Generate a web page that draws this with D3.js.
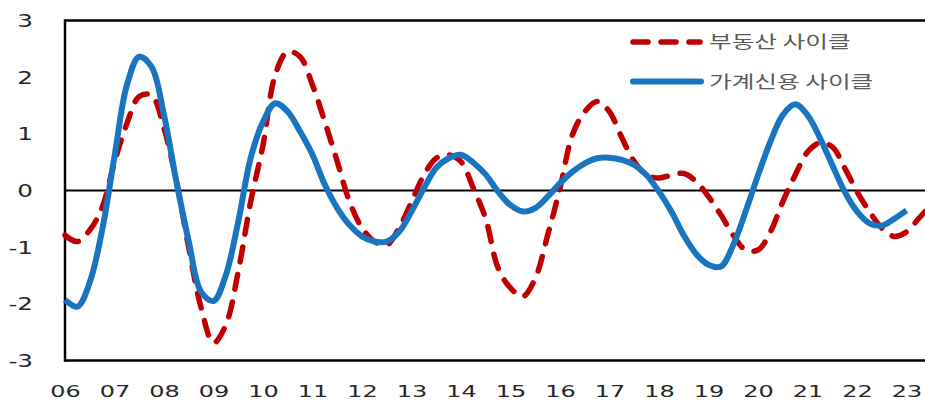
<!DOCTYPE html>
<html>
<head>
<meta charset="utf-8">
<script src="https://cdn.jsdelivr.net/npm/d3@7"></script>
<style>
  html, body { margin: 0; padding: 0; background: #fff; }
  svg { display: block; }
</style>
</head>
<body>
<svg id="chart" width="925" height="401"></svg>
<script>
// ---------- data ----------
const yearLabels = ["06","07","08","09","10","11","12","13","14","15","16","17","18","19","20","21","22","23"];
const quarters = [];
yearLabels.forEach(y => { for (let q = 1; q <= 4; q++) quarters.push(y + "Q" + q); });
quarters.splice(71); // 06Q1 .. 23Q3

const seriesNames = ["부동산 사이클", "가계신용 사이클"];

// 부동산 사이클 (red, dashed)
const realEstate = [
  -0.79, -0.90, -0.70, -0.30,   // 06
   0.50,  1.18,  1.66,  1.68,   // 07
   1.10,  0.16, -1.01, -2.07,   // 08
  -2.69, -2.37, -1.43, -0.20,   // 09
   0.80,  2.05,  2.45,  2.36,   // 10
   1.86,  1.21,  0.51, -0.20,   // 11
  -0.66, -0.90, -0.96, -0.66,   // 12
  -0.20,  0.27,  0.57,  0.63,   // 13
   0.51,  0.04, -0.50, -1.37,   // 14
  -1.72, -1.87, -1.55, -0.79,   // 15
   0.04,  0.98,  1.39,  1.57,   // 16
   1.39,  0.93,  0.51,  0.27,   // 17
   0.22,  0.27,  0.30,  0.16,   // 18
  -0.11, -0.43, -0.79, -1.05,   // 19
  -1.05, -0.73, -0.20,  0.27,   // 20
   0.68,  0.84,  0.77,  0.40,   // 21
  -0.02, -0.37, -0.66, -0.81,   // 22
  -0.73, -0.49, -0.25           // 23
];

// 가계신용 사이클 (blue, solid)
const householdCredit = [
  -1.93, -2.05, -1.62, -0.70,   // 06
   0.60,  1.86,  2.36,  2.18,   // 07
   1.33,  0.16, -0.90, -1.79,   // 08
  -1.95, -1.49, -0.55,  0.57,   // 09
   1.21,  1.54,  1.39,  1.04,   // 10
   0.63,  0.10, -0.31, -0.61,   // 11
  -0.81, -0.90, -0.90, -0.73,   // 12
  -0.37,  0.04,  0.40,  0.57,   // 13
   0.63,  0.49,  0.28, -0.02,   // 14
  -0.26, -0.37, -0.31, -0.11,   // 15
   0.13,  0.33,  0.48,  0.57,   // 16
   0.58,  0.54,  0.45,  0.27,   // 17
  -0.02, -0.37, -0.79, -1.12,   // 18
  -1.31, -1.34, -0.96, -0.37,   // 19
   0.27,  0.86,  1.33,  1.52,   // 20
   1.33,  0.93,  0.45, -0.02,   // 21
  -0.37, -0.58, -0.62, -0.50,   // 22
  -0.35,  null,  null           // 23
];

const yTicks = [-3, -2, -1, 0, 1, 2, 3];

// ---------- layout ----------
const W = 925, H = 401;
const plotLeft = 65, plotTop = 20.5, plotBottom = 360.5;
const qStep = 12.375;
const SX = 1.45; // horizontal text stretch seen in the reference
const RED = "#c00000", BLUE = "#1a75c1";
const FONT = "'DejaVu Sans', 'Noto Sans CJK KR', sans-serif";

const svg = d3.select("#chart");

// stretch a text horizontally with textLength, keeping its anchor point
function stretch(sel) {
  sel.each(function () {
    const t = d3.select(this);
    const anchor = t.attr("text-anchor") || getComputedStyle(this).textAnchor || "start";
    const x0 = +t.attr("x") || 0;
    const w = this.getComputedTextLength();
    const nw = w * SX;
    const shift = anchor === "end" ? nw : anchor === "middle" ? nw / 2 : 0;
    t.attr("text-anchor", "start")
     .attr("x", x0 - shift)
     .attr("textLength", nw)
     .attr("lengthAdjust", "spacingAndGlyphs");
  });
}

const x = d3.scalePoint()
  .domain(quarters)
  .range([plotLeft, plotLeft + (quarters.length - 1) * qStep]);
const y = d3.scaleLinear().domain([-3, 3]).range([plotBottom, plotTop]);

// frame lines
svg.append("line").attr("x1", plotLeft).attr("x2", W).attr("y1", plotTop).attr("y2", plotTop)
  .attr("stroke", "#000").attr("stroke-width", 2.5);
svg.append("line").attr("x1", plotLeft).attr("x2", W).attr("y1", plotBottom).attr("y2", plotBottom)
  .attr("stroke", "#000").attr("stroke-width", 2.5);
svg.append("line").attr("x1", plotLeft).attr("x2", plotLeft).attr("y1", plotTop - 1.25).attr("y2", plotBottom + 1.25)
  .attr("stroke", "#000").attr("stroke-width", 2.5);
svg.append("line").attr("x1", plotLeft).attr("x2", W).attr("y1", y(0)).attr("y2", y(0))
  .attr("stroke", "#000").attr("stroke-width", 2);

// y axis (labels only)
const yAxis = svg.append("g")
  .attr("transform", `translate(${plotLeft},0)`)
  .call(d3.axisLeft(y).tickValues(yTicks).tickSize(0).tickFormat(d => String(d)));
yAxis.select(".domain").remove();
yAxis.selectAll("text")
  .attr("x", -32)
  .attr("dy", "0.36em")
  .attr("text-anchor", "end")
  .style("font-family", FONT).style("font-size", "17px").attr("fill", "#262626")
  .call(stretch);

// x axis (labels only)
const xAxis = svg.append("g")
  .attr("transform", `translate(0,${plotBottom})`)
  .call(d3.axisBottom(x)
    .tickValues(quarters.filter(q => q.endsWith("Q1")))
    .tickSize(0)
    .tickFormat(q => q.slice(0, 2)));
xAxis.select(".domain").remove();
xAxis.selectAll("text")
  .attr("y", 31)
  .attr("x", 0)
  .attr("dy", "0.36em")
  .attr("text-anchor", "middle")
  .style("font-family", FONT).style("font-size", "16.5px").attr("fill", "#262626")
  .call(stretch);

// lines
const lineGen = d3.line()
  .defined(d => d != null)
  .x((d, i) => x(quarters[i]))
  .y(d => y(d))
  .curve(d3.curveCatmullRom.alpha(0.5));

svg.append("path")
  .datum(realEstate)
  .attr("d", lineGen)
  .attr("fill", "none")
  .attr("stroke", RED)
  .attr("stroke-width", 5.5)
  .attr("stroke-linecap", "round")
  .attr("stroke-dasharray", "15,13");

svg.append("path")
  .datum(householdCredit)
  .attr("d", lineGen)
  .attr("fill", "none")
  .attr("stroke", BLUE)
  .attr("stroke-width", 6)
  .attr("stroke-linejoin", "round");

// legend
const legend = svg.append("g");
const legendRows = [
  { name: seriesNames[0], color: RED, dash: "15,13", width: 5.5, y: 42 },
  { name: seriesNames[1], color: BLUE, dash: null, width: 6, y: 81.5 }
];
legendRows.forEach(r => {
  legend.append("line")
    .attr("x1", 633).attr("x2", r.dash ? 700 : 701)
    .attr("y1", r.y).attr("y2", r.y)
    .attr("stroke", r.color).attr("stroke-width", r.width)
    .attr("stroke-linecap", "round")
    .attr("stroke-dasharray", r.dash);
  legend.append("text")
    .attr("x", 709)
    .attr("y", r.y)
    .attr("dy", "0.36em")
    .style("font-family", "'Noto Sans CJK KR', sans-serif")
    .style("font-size", "17px")
    .attr("fill", "#595959")
    .text(r.name)
    .call(stretch);
});
</script>
</body>
</html>
